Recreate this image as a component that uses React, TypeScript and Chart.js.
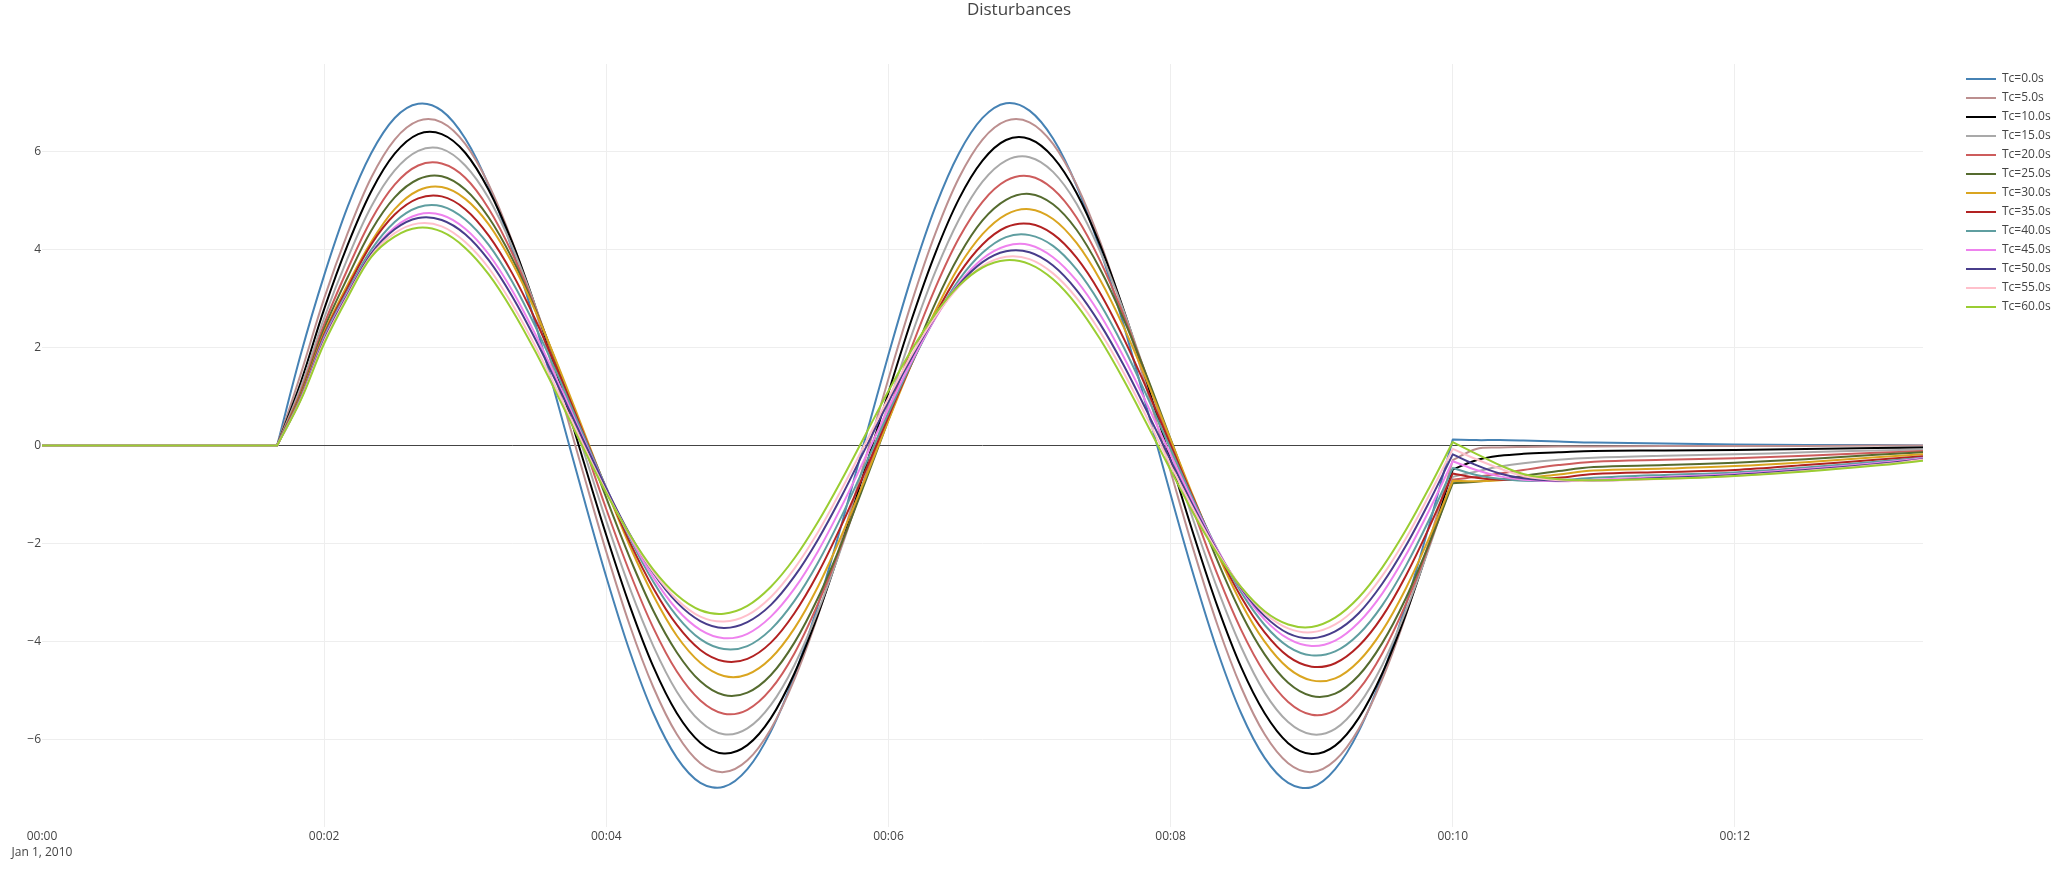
import React, { useEffect, useRef } from 'react';
import { Chart, registerables } from 'chart.js';

Chart.register(...registerables);

// sample times, in sixths of a second (0 s .. 13.33 s)
const SIXTHS = [
    0,
    10, 11, 12, 13, 14, 15, 16, 17, 18, 19, 20, 21, 22, 23, 24, 25, 26, 27, 28, 29, 30, 31, 32, 33, 34,
    35, 36, 37, 38, 39, 40, 41, 42, 43, 44, 45, 46, 47, 48, 49, 50, 51, 52, 53, 54, 55, 56, 57, 58, 59,
    60,
    61, 62, 63, 64.5, 66, 69, 72, 75, 78, 80,
];
// the disturbance switches on and off here: keep a sharp corner
const KINKS = [10, 60];

const TC_0 = [0,
    0, 1.85, 3.47, 4.87, 5.96, 6.68, 6.97, 6.83, 6.26, 5.30, 4.00, 2.46, 0.75, -1.00, -2.68, -4.20, -5.46, -6.37, -6.88, -6.96, -6.60, -5.83, -4.69, -3.26, -1.62,
    0.12, 1.85, 3.47, 4.87, 5.96, 6.68, 6.98, 6.83, 6.26, 5.30, 4.00, 2.46, 0.75, -1.00, -2.68, -4.20, -5.46, -6.37, -6.88, -6.97, -6.60, -5.83, -4.69, -3.26, -1.62,
    0.12,
    0.11, 0.11, 0.10, 0.08, 0.06, 0.04, 0.02, 0.01, 0.01, 0.00];
const TC_5 = [0,
    0, 1.45, 3.00, 4.33, 5.46, 6.24, 6.62, 6.59, 6.15, 5.32, 4.16, 2.73, 1.13, -0.53, -2.17, -3.67, -4.93, -5.89, -6.48, -6.66, -6.42, -5.78, -4.77, -3.47, -1.95,
    -0.30, 1.36, 2.94, 4.33, 5.46, 6.24, 6.62, 6.59, 6.15, 5.32, 4.16, 2.73, 1.13, -0.53, -2.17, -3.67, -4.93, -5.89, -6.48, -6.66, -6.42, -5.78, -4.77, -3.47, -1.95,
    -0.30,
    -0.07, -0.04, -0.03, -0.02, -0.02, -0.01, -0.01, -0.01, 0.00, 0.00];
const TC_10 = [0,
    0, 1.28, 2.78, 4.09, 5.18, 5.95, 6.35, 6.35, 5.97, 5.21, 4.14, 2.81, 1.31, -0.27, -1.83, -3.27, -4.51, -5.46, -6.06, -6.28, -6.11, -5.56, -4.65, -3.45, -2.04,
    -0.49, 1.08, 2.59, 3.93, 5.03, 5.81, 6.23, 6.25, 5.88, 5.15, 4.09, 2.77, 1.28, -0.30, -1.85, -3.29, -4.52, -5.46, -6.07, -6.29, -6.12, -5.56, -4.65, -3.45, -2.04,
    -0.49,
    -0.30, -0.21, -0.17, -0.14, -0.11, -0.10, -0.09, -0.07, -0.05, -0.04];
const TC_15 = [0,
    0, 1.18, 2.60, 3.82, 4.87, 5.61, 6.01, 6.05, 5.71, 5.04, 4.05, 2.82, 1.42, -0.06, -1.54, -2.91, -4.09, -5.02, -5.63, -5.89, -5.77, -5.29, -4.48, -3.38, -2.08,
    -0.64, 0.84, 2.27, 3.55, 4.61, 5.38, 5.81, 5.88, 5.58, 4.93, 3.96, 2.75, 1.37, -0.10, -1.57, -2.93, -4.11, -5.04, -5.64, -5.89, -5.78, -5.29, -4.48, -3.38, -2.08,
    -0.64,
    -0.53, -0.43, -0.36, -0.29, -0.25, -0.21, -0.18, -0.14, -0.10, -0.08];
const TC_20 = [0,
    0, 1.10, 2.47, 3.60, 4.60, 5.32, 5.71, 5.75, 5.46, 4.83, 3.92, 2.78, 1.48, 0.09, -1.30, -2.59, -3.72, -4.61, -5.20, -5.47, -5.39, -4.97, -4.24, -3.23, -2.03,
    -0.69, 0.68, 2.02, 3.22, 4.23, 4.97, 5.40, 5.49, 5.23, 4.65, 3.77, 2.66, 1.38, 0.01, -1.36, -2.64, -3.76, -4.64, -5.23, -5.49, -5.40, -4.98, -4.24, -3.24, -2.03,
    -0.70,
    -0.64, -0.57, -0.50, -0.40, -0.33, -0.29, -0.26, -0.21, -0.15, -0.11];
const TC_25 = [0,
    0, 1.04, 2.38, 3.43, 4.38, 5.06, 5.43, 5.49, 5.22, 4.65, 3.81, 2.75, 1.53, 0.23, -1.07, -2.29, -3.37, -4.22, -4.81, -5.09, -5.04, -4.68, -4.02, -3.11, -2.00,
    -0.76, 0.52, 1.77, 2.91, 3.87, 4.59, 5.01, 5.13, 4.92, 4.40, 3.60, 2.58, 1.40, 0.13, -1.15, -2.36, -3.42, -4.26, -4.84, -5.11, -5.06, -4.69, -4.03, -3.12, -2.00,
    -0.77,
    -0.74, -0.69, -0.62, -0.52, -0.44, -0.40, -0.35, -0.28, -0.19, -0.14];
const TC_30 = [0,
    0, 1.00, 2.30, 3.28, 4.15, 4.82, 5.20, 5.27, 5.03, 4.51, 3.72, 2.72, 1.57, 0.34, -0.89, -2.05, -3.06, -3.88, -4.43, -4.70, -4.67, -4.34, -3.73, -2.88, -1.84,
    -0.69, 0.51, 1.68, 2.75, 3.65, 4.31, 4.71, 4.82, 4.62, 4.13, 3.38, 2.42, 1.31, 0.12, -1.08, -2.21, -3.21, -4.00, -4.54, -4.79, -4.75, -4.40, -3.78, -2.92, -1.88,
    -0.72,
    -0.73, -0.71, -0.67, -0.59, -0.51, -0.47, -0.42, -0.34, -0.24, -0.18];
const TC_35 = [0,
    0, 0.98, 2.26, 3.22, 4.10, 4.71, 5.04, 5.08, 4.82, 4.28, 3.51, 2.55, 1.45, 0.28, -0.88, -1.97, -2.91, -3.66, -4.17, -4.40, -4.35, -4.02, -3.42, -2.61, -1.63,
    -0.54, 0.59, 1.68, 2.67, 3.50, 4.10, 4.45, 4.52, 4.31, 3.83, 3.11, 2.19, 1.14, 0.01, -1.11, -2.17, -3.09, -3.81, -4.30, -4.51, -4.44, -4.09, -3.49, -2.66, -1.67,
    -0.57,
    -0.66, -0.70, -0.70, -0.66, -0.58, -0.54, -0.50, -0.40, -0.29, -0.22];
const TC_40 = [0,
    0, 0.96, 2.22, 3.15, 3.99, 4.56, 4.86, 4.88, 4.61, 4.09, 3.34, 2.41, 1.36, 0.24, -0.86, -1.89, -2.78, -3.48, -3.95, -4.15, -4.09, -3.75, -3.17, -2.39, -1.45,
    -0.41, 0.66, 1.69, 2.61, 3.38, 3.93, 4.25, 4.29, 4.07, 3.59, 2.89, 2.01, 1.00, -0.07, -1.14, -2.13, -2.99, -3.66, -4.10, -4.28, -4.20, -3.85, -3.26, -2.46, -1.51,
    -0.46,
    -0.60, -0.68, -0.72, -0.71, -0.66, -0.60, -0.55, -0.45, -0.33, -0.25];
const TC_45 = [0,
    0, 0.95, 2.18, 3.11, 3.92, 4.45, 4.71, 4.70, 4.42, 3.90, 3.16, 2.25, 1.24, 0.17, -0.88, -1.85, -2.69, -3.34, -3.76, -3.93, -3.84, -3.49, -2.92, -2.16, -1.25,
    -0.26, 0.76, 1.73, 2.60, 3.31, 3.81, 4.07, 4.09, 3.84, 3.36, 2.67, 1.81, 0.84, -0.19, -1.20, -2.13, -2.93, -3.55, -3.94, -4.09, -3.98, -3.61, -3.02, -2.24, -1.32,
    -0.32,
    -0.50, -0.63, -0.70, -0.73, -0.70, -0.64, -0.58, -0.48, -0.36, -0.26];
const TC_50 = [0,
    0, 0.94, 2.15, 3.08, 3.91, 4.41, 4.64, 4.60, 4.31, 3.78, 3.04, 2.15, 1.16, 0.13, -0.88, -1.81, -2.60, -3.20, -3.58, -3.72, -3.60, -3.25, -2.67, -1.92, -1.04,
    -0.08, 0.89, 1.81, 2.63, 3.28, 3.74, 3.96, 3.94, 3.67, 3.17, 2.48, 1.64, 0.69, -0.30, -1.27, -2.16, -2.91, -3.48, -3.83, -3.93, -3.79, -3.42, -2.82, -2.05, -1.15,
    -0.18,
    -0.40, -0.57, -0.67, -0.72, -0.72, -0.66, -0.60, -0.50, -0.38, -0.28];
const TC_55 = [0,
    0, 0.93, 2.12, 3.05, 3.87, 4.33, 4.53, 4.47, 4.15, 3.62, 2.88, 2.01, 1.04, 0.03, -0.94, -1.83, -2.58, -3.14, -3.49, -3.59, -3.46, -3.09, -2.51, -1.77, -0.90,
    0.03, 0.97, 1.86, 2.63, 3.24, 3.66, 3.85, 3.80, 3.51, 3.01, 2.32, 1.49, 0.56, -0.40, -1.33, -2.18, -2.89, -3.42, -3.73, -3.81, -3.65, -3.26, -2.66, -1.90, -1.01,
    -0.07,
    -0.28, -0.47, -0.62, -0.71, -0.72, -0.68, -0.62, -0.52, -0.40, -0.29];
const TC_60 = [0,
    0, 0.92, 2.08, 3.02, 3.84, 4.26, 4.44, 4.36, 4.03, 3.49, 2.76, 1.90, 0.95, -0.03, -0.97, -1.82, -2.53, -3.05, -3.36, -3.43, -3.27, -2.88, -2.30, -1.56, -0.71,
    0.20, 1.11, 1.96, 2.69, 3.26, 3.63, 3.78, 3.70, 3.39, 2.87, 2.17, 1.34, 0.43, -0.50, -1.41, -2.22, -2.89, -3.38, -3.65, -3.70, -3.51, -3.10, -2.49, -1.73, -0.86,
    0.07,
    -0.17, -0.40, -0.58, -0.69, -0.71, -0.68, -0.62, -0.53, -0.41, -0.31];

const SERIES = [TC_0, TC_5, TC_10, TC_15, TC_20, TC_25, TC_30, TC_35, TC_40, TC_45, TC_50, TC_55, TC_60];
const LABELS = ['Tc=0.0s', 'Tc=5.0s', 'Tc=10.0s', 'Tc=15.0s', 'Tc=20.0s', 'Tc=25.0s', 'Tc=30.0s',
    'Tc=35.0s', 'Tc=40.0s', 'Tc=45.0s', 'Tc=50.0s', 'Tc=55.0s', 'Tc=60.0s'];
const COLORS = ['#4682B4', '#BC8F8F', '#000000', '#A9A9A9', '#CD5C5C', '#556B2F', '#DAA520',
    '#B22222', '#5F9EA0', '#EE82EE', '#483D8B', '#FFC0CB', '#9ACD32'];

const X_TICKS = [0, 2, 4, 6, 8, 10, 12];
const Y_TICKS = [-6, -4, -2, 0, 2, 4, 6];

const FONT = '"Open Sans", verdana, arial, sans-serif';
const W = 2071;
const H = 877;

// points of one trace; a sample at a kink is repeated so the spline keeps the corner
const toPoints = (vals: number[]) => {
    const pts: { x: number; y: number }[] = [];
    SIXTHS.forEach((s, k) => {
        pts.push({ x: s / 6, y: vals[k] });
        if (KINKS.includes(s)) pts.push({ x: s / 6, y: vals[k] });
    });
    return pts;
};

// plotly-like title, drawn above the plot
const titlePlugin = {
    id: 'plotTitle',
    afterDraw(chart: any) {
        const ctx = chart.ctx;
        ctx.save();
        ctx.font = `17px ${FONT}`;
        ctx.fillStyle = '#444';
        ctx.textAlign = 'center';
        ctx.textBaseline = 'alphabetic';
        ctx.fillText('Disturbances', 1019, 15);
        ctx.restore();
    }
};

// fixed legend width so the plot area ends where the reference does
const legendWidthPlugin = {
    id: 'legendWidth',
    beforeLayout(chart: any) {
        const lg = chart.legend;
        if (lg && !lg.__fixed) {
            const fit = lg.fit.bind(lg);
            lg.fit = () => {
                fit();
                lg.width = 112;
            };
            lg.__fixed = true;
        }
    },
    afterLayout(chart: any) {
        const lg = chart.legend;
        if (lg) {
            lg.top += 2;
            lg.bottom += 2;
        }
    }
};

const App = () => {
    const chartRef = useRef<HTMLCanvasElement>(null);
    const chartInstance = useRef<Chart | null>(null);

    useEffect(() => {
        document.body.style.margin = '0';
        if (!chartRef.current) return;
        const ctx = chartRef.current.getContext('2d');
        if (!ctx) return;
        if (chartInstance.current) chartInstance.current.destroy();

        const datasets = SERIES.map((vals, i) => ({
            label: LABELS[i],
            data: toPoints(vals),
            borderColor: COLORS[i],
            backgroundColor: COLORS[i],
            pointBorderColor: COLORS[i],
            borderWidth: 2,
            pointBorderWidth: 2,
            pointRadius: 0,
            pointHoverRadius: 0,
            tension: 0.35,
            fill: false,
            borderJoinStyle: 'round' as const,
            yAxisID: 'y',
            order: SERIES.length - i
        }));

        chartInstance.current = new Chart(ctx, {
            type: 'line',
            data: { datasets },
            options: {
                responsive: false,
                animation: false,
                events: [],
                layout: { padding: { top: 64, right: 0, bottom: 0, left: 0 } },
                plugins: {
                    title: { display: false },
                    tooltip: { enabled: false },
                    legend: {
                        position: 'right',
                        align: 'start',
                        labels: {
                            usePointStyle: true,
                            pointStyle: 'line',
                            pointStyleWidth: 30,
                            padding: 7,
                            color: '#444',
                            font: { family: FONT, size: 12 },
                            sort: (a: any, b: any) => a.datasetIndex - b.datasetIndex
                        }
                    }
                },
                scales: {
                    x: {
                        type: 'linear',
                        min: 0,
                        max: 80 / 6,
                        afterBuildTicks: (s: any) => {
                            s.ticks = X_TICKS.map((v) => ({ value: v }));
                        },
                        afterFit: (s: any) => {
                            s.height = 50;
                        },
                        grid: {
                            color: (c: any) => (c.tick && c.tick.value === 0 ? 'rgba(0,0,0,0)' : '#eee'),
                            drawTicks: false,
                            lineWidth: 1
                        },
                        border: { display: false },
                        ticks: {
                            padding: 1,
                            maxRotation: 0,
                            autoSkip: false,
                            color: '#444',
                            font: { family: FONT, size: 12, lineHeight: 1.35 },
                            callback: (v: any) => {
                                const s = '00:' + String(Math.round(Number(v))).padStart(2, '0');
                                return Number(v) === 0 ? [s, 'Jan 1, 2010'] : s;
                            }
                        }
                    },
                    y: {
                        type: 'linear',
                        min: -7.78,
                        max: 7.78,
                        afterBuildTicks: (s: any) => {
                            s.ticks = Y_TICKS.map((v) => ({ value: v }));
                        },
                        afterFit: (s: any) => {
                            s.width = 42;
                        },
                        grid: {
                            color: (c: any) => (c.tick && c.tick.value === 0 ? '#444' : '#eee'),
                            drawTicks: false,
                            lineWidth: 1
                        },
                        border: { display: false },
                        ticks: {
                            padding: 1,
                            color: '#444',
                            font: { family: FONT, size: 12 },
                            callback: (v: any) => (Number(v) < 0 ? '\u2212' + Math.abs(Number(v)) : String(v))
                        }
                    },
                    gap: {
                        type: 'linear',
                        position: 'right',
                        display: true,
                        grid: { display: false },
                        border: { display: false },
                        ticks: { display: false },
                        afterFit: (s: any) => {
                            s.width = 36;
                        }
                    }
                }
            } as any,
            plugins: [titlePlugin, legendWidthPlugin]
        });

        return () => {
            if (chartInstance.current) {
                chartInstance.current.destroy();
                chartInstance.current = null;
            }
        };
    }, []);

    return (
        <div style={{ width: W, height: H, background: '#fff' }}>
            <canvas ref={chartRef} width={W} height={H} style={{ display: 'block' }}></canvas>
        </div>
    );
};

export default App;
